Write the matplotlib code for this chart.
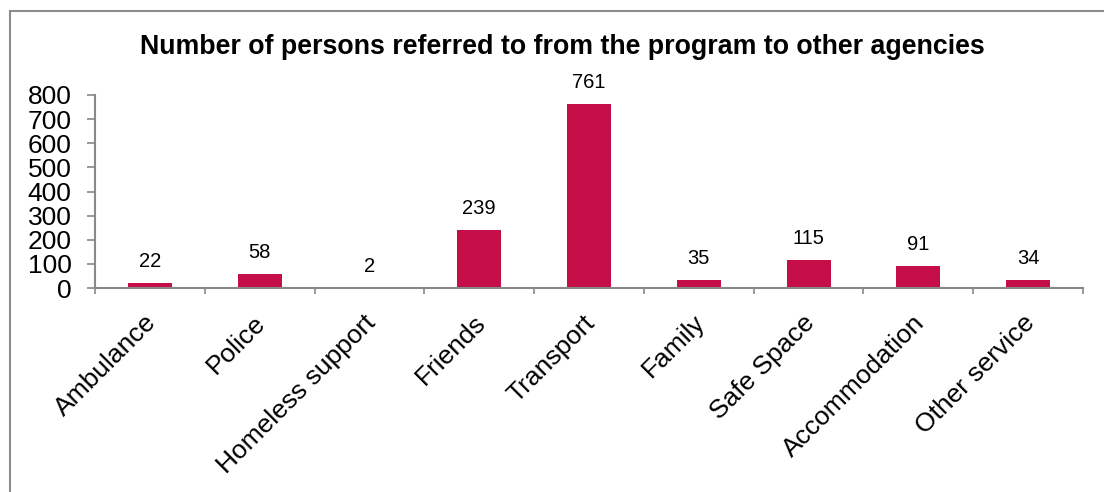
from matplotlib import pyplot as plt
from matplotlib.patches import Rectangle
from matplotlib.transforms import ScaledTranslation
import numpy as np

# %% Data

categories = ['Ambulance', 'Police', 'Homeless support', 'Friends', 'Transport',
              'Family', 'Safe Space', 'Accommodation', 'Other service']
referrals = [22, 58, 2, 239, 761, 35, 115, 91, 34]
title = 'Number of persons referred to from the program to other agencies'

# %% Plot

plt.rcParams['font.family'] = ['Liberation Sans', 'DejaVu Sans']
W, H = 1104, 492
fig = plt.figure(figsize=(W/100, H/100), dpi=100)
ax = fig.add_axes([95/W, 1-288/H, (1083-95)/W, (288-95)/H])

x = np.arange(len(categories))
ax.bar(x, referrals, width=0.4, color='#C50E47')
for xi, v in zip(x, referrals):
    ax.annotate(str(v), (xi, v), xytext=(0, 11.5), textcoords='offset points',
                ha='center', va='baseline', fontsize=14.5)

ax.set_xlim(-0.5, len(categories)-0.5)
ax.set_ylim(0, 800)
ax.set_yticks(np.arange(0, 801, 100))

# slanted category labels, anchored a little below-left of each category centre
ax.set_xticks(x)
ax.set_xticklabels([])
lab_trans = ax.get_xaxis_transform() + ScaledTranslation(-6/100, -22.5/100, fig.dpi_scale_trans)
for xi, name in zip(x, categories):
    ax.text(xi, 0, name, transform=lab_trans, rotation=45, ha='right', va='top',
            rotation_mode='anchor', fontsize=19, clip_on=False)

ax.set_xticks(np.arange(-0.5, len(categories), 1), minor=True)
ax.tick_params(axis='x', which='major', length=0)
ax.tick_params(axis='x', which='minor', length=4.5, color='#898989', width=1.2)
ax.tick_params(axis='y', length=6, color='#898989', width=1.2, labelsize=19, pad=11)
for s in ['top', 'right']:
    ax.spines[s].set_visible(False)
for s in ['left', 'bottom']:
    ax.spines[s].set_color('#898989')
    ax.spines[s].set_linewidth(1.5)

fig.text(562/W, 1-47/H, title, ha='center', va='center', fontsize=19.3, fontweight='bold')

# border round the chart
fig.patches.append(Rectangle((10/W, -0.1), 1.2, 1-11/H+0.1, transform=fig.transFigure,
                             fill=False, edgecolor='#8c8c8c', linewidth=1.5))

fig.savefig('out.png', dpi=100)
